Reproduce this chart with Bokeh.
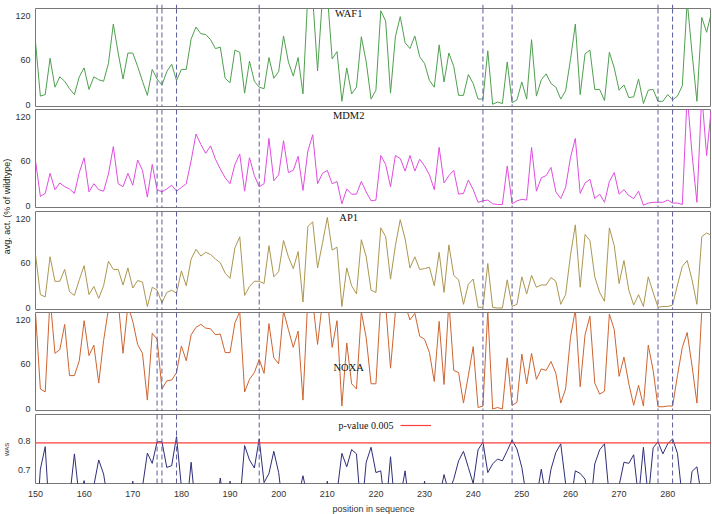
import math
from bokeh.plotting import figure
from bokeh.layouts import column, row
from bokeh.models import Range1d, FixedTicker, Span, Label, Legend, LegendItem
from bokeh.embed import file_html
from bokeh.resources import INLINE

# ---------------- data ----------------
positions = list(range(150, 290))

waf1 = [85, 12, 14, 63, 24, 38, 32, 22, 14, 38,
        50, 21, 38, 34, 32, 56, 109, 70, 35, 70,
        70, 52, 32, 13, 48, 35, 27, 45, 55, 33,
        48, 48, 89, 105, 96, 95, 88, 76, 78, 36,
        30, 74, 71, 16, 59, 32, 24, 22, 64, 36,
        45, 93, 58, 39, 64, 15, 150, 145, 46, 145,
        150, 62, 72, 5, 50, 15, 24, 92, 58, 8,
        20, 127, 113, 16, 92, 119, 84, 76, 93, 65,
        56, 33, 24, 81, 31, 70, 52, 13, 13, 41,
        29, 8, 8, 73, 1, 4, 2, 58, 3, 7,
        31, 8, 88, 12, 34, 42, 29, 24, 8, 19,
        61, 109, 14, 69, 74, 21, 21, 6, 71, 50,
        20, 27, 10, 11, 35, 2, 20, 21, 5, 5,
        14, 7, 12, 26, 140, 70, 5, 118, 98, 125]

mdm2 = [61, 13, 17, 44, 22, 31, 26, 23, 17, 45,
        65, 19, 30, 22, 20, 43, 80, 30, 26, 44,
        28, 62, 48, 12, 56, 22, 19, 23, 28, 20,
        25, 30, 61, 97, 83, 71, 81, 63, 50, 38,
        30, 56, 70, 20, 65, 41, 26, 30, 91, 34,
        42, 88, 45, 48, 67, 21, 74, 96, 30, 44,
        48, 30, 33, 3, 23, 16, 16, 33, 19, 7,
        8, 68, 56, 26, 68, 64, 47, 68, 47, 63,
        54, 42, 22, 79, 31, 41, 48, 16, 17, 35,
        22, 5, 7, 8, 3, 2, 2, 54, 3, 7,
        9, 8, 79, 20, 38, 41, 52, 19, 10, 25,
        65, 91, 17, 31, 36, 10, 16, 5, 33, 45,
        16, 22, 14, 10, 20, 1, 4, 5, 5, 5,
        8, 4, 4, 2, 150, 70, 5, 150, 68, 135]

ap1 = [72, 18, 15, 69, 36, 36, 52, 22, 17, 38,
       57, 18, 29, 13, 30, 63, 52, 52, 31, 54,
       27, 37, 35, 2, 28, 24, 7, 21, 24, 20,
       50, 30, 66, 79, 70, 75, 72, 66, 61, 47,
       40, 81, 96, 17, 29, 36, 36, 33, 84, 42,
       49, 91, 69, 53, 76, 8, 110, 116, 54, 87,
       122, 78, 82, 2, 54, 30, 19, 92, 69, 24,
       21, 108, 96, 39, 84, 119, 93, 54, 69, 52,
       53, 55, 30, 75, 21, 85, 44, 38, 5, 32,
       39, 1, 1, 60, 1, 0, 0, 38, 2, 5,
       42, 19, 44, 28, 31, 31, 41, 36, 5, 18,
       71, 112, 28, 99, 91, 42, 21, 9, 108, 84,
       33, 64, 24, 4, 18, 2, 42, 21, 1, 2,
       2, 4, 31, 56, 64, 38, 5, 96, 101, 98]

noxa = [130, 27, 23, 150, 75, 80, 114, 45, 45, 65,
        119, 72, 86, 35, 92, 135, 145, 145, 75, 140,
        118, 87, 75, 12, 102, 94, 27, 38, 39, 49,
        85, 65, 100, 110, 114, 109, 108, 100, 101, 76,
        76, 116, 131, 23, 40, 49, 67, 48, 115, 69,
        61, 132, 107, 83, 105, 12, 150, 145, 87, 145,
        150, 83, 119, 4, 89, 34, 27, 131, 96, 34,
        34, 145, 140, 55, 131, 145, 140, 120, 129, 98,
        94, 76, 37, 118, 33, 145, 52, 49, 8, 45,
        84, 2, 4, 132, 0, 2, 0, 69, 5, 9,
        74, 34, 75, 40, 54, 52, 64, 48, 8, 27,
        96, 134, 30, 100, 125, 35, 20, 24, 128, 107,
        44, 70, 34, 5, 32, 4, 86, 52, 3, 3,
        4, 4, 45, 83, 103, 58, 8, 132, 145, 145]

was = [0.45, 0.702, 0.780, 0.50, 0.55, 0.55, 0.55, 0.60, 0.755, 0.60,
       0.662, 0.55, 0.645, 0.734, 0.685, 0.58, 0.55, 0.55, 0.55, 0.55,
       0.66, 0.55, 0.64, 0.758, 0.722, 0.797, 0.797, 0.708, 0.714, 0.815,
       0.64, 0.55, 0.726, 0.55, 0.55, 0.55, 0.55, 0.55, 0.671, 0.55,
       0.66, 0.55, 0.58, 0.784, 0.734, 0.706, 0.807, 0.655, 0.687, 0.764,
       0.69, 0.55, 0.55, 0.55, 0.60, 0.679, 0.60, 0.55, 0.55, 0.55,
       0.66, 0.55, 0.62, 0.757, 0.71, 0.770, 0.755, 0.54, 0.726, 0.778,
       0.69, 0.696, 0.55, 0.745, 0.55, 0.60, 0.696, 0.55, 0.55, 0.55,
       0.66, 0.55, 0.55, 0.60, 0.683, 0.62, 0.667, 0.731, 0.764, 0.708,
       0.652, 0.769, 0.796, 0.69, 0.72, 0.737, 0.731, 0.766, 0.803, 0.772,
       0.708, 0.60, 0.55, 0.60, 0.702, 0.60, 0.702, 0.76, 0.79, 0.652,
       0.58, 0.696, 0.687, 0.667, 0.55, 0.72, 0.769, 0.79, 0.60, 0.55,
       0.645, 0.726, 0.722, 0.752, 0.60, 0.778, 0.60, 0.776, 0.797, 0.755,
       0.79, 0.807, 0.757, 0.60, 0.55, 0.694, 0.71, 0.60, 0.55, 0.55]

threshold = 0.793
threshold_label = "p-value 0.005"
panel_names = ["WAF1", "MDM2", "AP1", "NOXA"]
panel_series = [waf1, mdm2, ap1, noxa]
panel_colors = ["#4f9f4f", "#e04ce0", "#ab9650", "#cc6430"]
was_color = "#2e2e7a"
act_ticks = [0, 60, 120]
was_ticks = [0.7, 0.8]
x_ticks = list(range(150, 290, 10))
y_label = "avg. act. (% of wildtype)"
was_label = "WAS"
x_label = "position in sequence"

for s in panel_series + [was]:
    assert len(s) == len(positions), len(s)

hits = [p for p, w in zip(positions, was) if w > threshold]

# ---------------- styling ----------------
FW = 676
SANS = "Liberation Sans"
SERIF = "Liberation Serif"
X0, X1 = 150, 289
label_x = 214.4
LAB_W = 12
DASH = dict(line_color="#5a5aa0", line_dash="5 3", line_width=1)


def add_hits(p):
    for s in hits:
        p.add_layout(Span(location=s, dimension="height", **DASH))


def base_fig(frame_h, bottom, y_range, x_axis):
    p = figure(frame_width=FW, frame_height=frame_h,
               x_range=Range1d(X0, X1), y_range=y_range,
               toolbar_location=None, output_backend="svg",
               x_axis_location="below" if x_axis else None,
               min_border_left=35 - LAB_W, min_border_right=0,
               min_border_top=0, min_border_bottom=bottom)
    p.outline_line_color = "#777777"
    p.outline_line_width = 1
    p.xgrid.visible = False
    p.ygrid.visible = False
    for ax in p.yaxis:
        ax.axis_line_color = None
        ax.major_tick_line_color = None
        ax.minor_tick_line_color = None
        ax.major_tick_out = 0
        ax.major_tick_in = 0
        ax.minor_tick_out = 0
        ax.major_label_standoff = 5
        ax.major_label_text_font = SANS
        ax.major_label_text_font_size = "9px"
        ax.major_label_text_color = "#333333"
    add_hits(p)
    return p


# thin strip above the first panel: the marker lines start at the top edge
strip = figure(frame_width=FW, frame_height=8, x_range=Range1d(X0, X1),
               y_range=Range1d(0, 1), toolbar_location=None, output_backend="svg",
               x_axis_location=None, y_axis_location=None,
               min_border_left=35 - LAB_W, min_border_right=0,
               min_border_top=0, min_border_bottom=0)
strip.outline_line_color = None
strip.grid.visible = False
add_hits(strip)

figs = [strip]
bottoms = [3, 4, 3, 4]
label_ys = [123.4, 122.0, 122.0, 55.7]
for name, series, color, bot, ly in zip(panel_names, panel_series, panel_colors,
                                         bottoms, label_ys):
    p = base_fig(98, bot, Range1d(-2, 130), False)
    p.line(positions, series, line_color=color, line_width=1)
    p.yaxis.ticker = FixedTicker(ticks=act_ticks)
    p.add_layout(Label(x=label_x, y=ly, text=name, text_font=SERIF,
                       text_font_size="10.5px", text_align="center",
                       text_baseline="middle", text_color="#111111"))
    figs.append(p)

# WAS panel
pw = base_fig(69, 28, Range1d(0.652, 0.892), True)
pw.line(positions, was, line_color=was_color, line_width=1)
thr = pw.line([positions[0], positions[-1]], [threshold, threshold],
              line_color="#ff3c3c", line_width=1.2)
pw.yaxis.ticker = FixedTicker(ticks=was_ticks)
xa = pw.xaxis[0]
xa.ticker = FixedTicker(ticks=x_ticks)
xa.axis_line_color = None
xa.major_tick_line_color = None
xa.minor_tick_line_color = None
xa.major_label_standoff = 1
xa.major_label_text_font = SANS
xa.major_label_text_font_size = "9px"
xa.major_label_text_color = "#333333"
xa.axis_label = x_label
xa.axis_label_standoff = 4
xa.axis_label_text_font = SANS
xa.axis_label_text_font_size = "9px"
xa.axis_label_text_font_style = "normal"
xa.axis_label_text_color = "#333333"
pw.add_layout(Label(x=212.3, y=0.853, text=threshold_label, text_font=SERIF,
                    text_font_size="10px", text_align="left",
                    text_baseline="middle", text_color="#111111"))
leg = Legend(items=[LegendItem(label=" ", renderers=[thr])],
             location=(365, 53), glyph_width=31, glyph_height=10,
             padding=0, margin=0, spacing=0, label_standoff=0,
             label_width=0, label_height=0, border_line_color=None,
             background_fill_alpha=0, label_text_font_size="1px")
pw.add_layout(leg)
figs.append(pw)

total_h = 8 + 101 + 102 + 101 + 102 + 97

lab = figure(frame_width=LAB_W, frame_height=total_h, toolbar_location=None,
             output_backend="svg", x_axis_location=None, y_axis_location=None,
             min_border_left=0, min_border_right=0, min_border_top=0,
             min_border_bottom=0, x_range=Range1d(0, 1), y_range=Range1d(0, 1))
lab.outline_line_color = None
lab.grid.visible = False
# picture y of text centres: 206 (activity label) and 449 (WAS label)
lab.add_layout(Label(x=6, y=total_h - 206, x_units="screen", y_units="screen",
                     text=y_label, angle=math.pi / 2, text_align="center",
                     text_baseline="middle", text_font=SANS,
                     text_font_size="9px", text_color="#222222"))
lab.add_layout(Label(x=6, y=total_h - 449, x_units="screen", y_units="screen",
                     text=was_label, angle=math.pi / 2, text_align="center",
                     text_baseline="middle", text_font=SANS,
                     text_font_size="6px", text_color="#222222"))

layout = row(lab, column(*figs, spacing=0), spacing=0,
             styles={"position": "absolute"})

open("out.html", "w").write(file_html(layout, INLINE))
